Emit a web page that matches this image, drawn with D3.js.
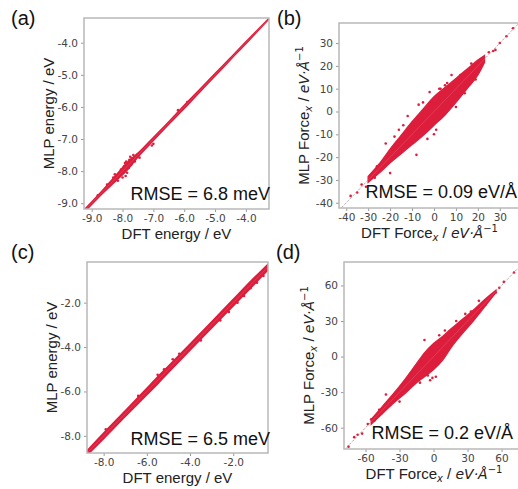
<!DOCTYPE html>
<html><head><meta charset="utf-8">
<script src="https://cdn.jsdelivr.net/npm/d3@7"></script>
<style>body{margin:0;background:#fff;overflow:hidden}</style></head>
<body><svg id="c" width="518" height="489"></svg>
<script>
// ---------- DATA ----------
// (a)
const aTicks = [-9, -8, -7, -6, -5, -4];
const aBandX  = [-9.22, -8.6, -8.3, -8.1, -7.9, -7.7, -7.5, -7.0, -6.5, -6.0, -5.5, -5.0, -4.5, -4.0, -3.6, -3.25];
const aBandLo = [-9.26, -8.65, -8.38, -8.2, -8.02, -7.8, -7.56, -7.05, -6.54, -6.05, -5.54, -5.04, -4.53, -4.03, -3.62, -3.26];
const aBandHi = [-9.18, -8.55, -8.22, -8.0, -7.78, -7.6, -7.44, -6.95, -6.46, -5.95, -5.46, -4.96, -4.47, -3.97, -3.58, -3.24];
const aPtsX = [-8.25, -8.15, -8.05, -8.0, -7.95, -7.9, -7.88, -7.85, -7.8, -7.78, -7.75, -7.72, -7.7, -7.65, -7.6, -7.55, -7.05, -7.0, -6.2, -5.9, -8.5, -8.8, -7.45, -8.3, -7.92];
const aPtsY = [-8.1, -8.3, -7.95, -8.2, -7.85, -8.15, -7.7, -8.05, -7.9, -7.65, -7.55, -7.8, -7.6, -7.5, -7.7, -7.55, -7.2, -7.15, -6.1, -5.85, -8.42, -8.75, -7.58, -8.2, -7.75];
// (b)
const bTicks = [-40, -30, -20, -10, 0, 10, 20, 30];
const bBandX  = [-30, -25, -20, -15, -10, -5, 0, 5, 10, 15, 20, 23];
const bBandLo = [-31, -27, -22.5, -18.5, -14.5, -10.5, -6, -1.5, 4, 10, 16, 21.5];
const bBandHi = [-28.5, -23, -16.5, -10.5, -4.5, 1, 6.5, 10.5, 14.5, 18.5, 22.5, 24.5];
const bPtsX = [-38, -35, -33, -31, -29, -27, -26, 25, 27, 28, 30, 33, 36, -12, -5, 3, 8, -16, -20, 0, 10, -8, 5, 14, 2.4, -22, -18, -14, -7, -2, 6, 12, 17, 19, -3, 1];
const bPtsY = [-37, -35.5, -32, -33, -28, -29, -24, 26, 26.5, 27, 30, 33, 36.5, -2, 4, 10, 16, -8, -27, -10, 2, -19, 11.5, 8, 10, -14, -11, -6, 3, 8.5, 12.5, 16, 21, 14, -12, -8];
// (c)
const cTicks = [-8, -6, -4, -2];
const cBandX  = [-8.8, -8.0, -7.0, -6.0, -5.5, -5.0, -4.0, -3.0, -2.0, -1.0, -0.3];
const cBandLo = [-8.9, -8.13, -7.13, -6.15, -5.66, -5.15, -4.14, -3.14, -2.15, -1.15, -0.44];
const cBandHi = [-8.7, -7.87, -6.87, -5.85, -5.34, -4.85, -3.86, -2.86, -1.85, -0.85, -0.18];
const cPtsX = [-5.5, -5.2, -4.8, -6.4, -7.9, -2.6, -1.5, -1.2, -3.5, -4.5, -0.6, -0.9, -2.2, -1.8];
const cPtsY = [-5.25, -5.0, -4.55, -6.2, -7.7, -2.8, -1.7, -1.35, -3.7, -4.3, -0.8, -1.1, -2.42, -2.0];
// (d)
const dTicks = [-60, -30, 0, 30, 60];
const dBandX  = [-55, -45, -35, -25, -15, -8, 0, 8, 15, 25, 35, 45, 55];
const dBandLo = [-57, -48, -39, -31, -22, -17, -11, -3, 7, 19, 30, 42, 54];
const dBandHi = [-53, -42, -31, -19, -6, 3, 11, 17, 23, 31, 39, 48, 56];
const dPtsX = [-75, -70, -67, -63, -58, -55, -52, -3, -1, 2, -12, -20, 50, 55, 58, 62, 71, -8, 10, 28, 46, 40, -42, -30, -48, -38, -27, 20, 33, 5, -5];
const dPtsY = [-76, -68, -66, -65, -57, -53, -54, -20, -18, -17, -22, -14, 51, 54, 58, 63, 71, 14, 22, 36, 44, 47, -32, -38, -45, -40, -24, 30, 38, 18, -16];

const rmseTexts = ["RMSE = 6.8 meV", "RMSE = 0.09 eV/Å", "RMSE = 6.5 meV", "RMSE = 0.2 eV/Å"];
const panelLabels = ["(a)", "(b)", "(c)", "(d)"];

// ---------- DRAW ----------
const svg = d3.select("#c");
const RED = "#dc1e3c";
const SANS = "'Liberation Sans', Arial, sans-serif";
const DJV = "'DejaVu Sans', sans-serif";

function energyLabel(t, who) {
  t.append("tspan").text(who + " energy / eV");
}
function forceLabel(t, who) {
  t.append("tspan").text(who + " Force");
  t.append("tspan").attr("font-family", DJV).attr("font-style", "italic").attr("font-size", 10).attr("dy", 3).text("x");
  t.append("tspan").attr("dy", -3).text(" / ");
  t.append("tspan").attr("font-family", DJV).attr("font-style", "italic").attr("font-size", 14).text("eV·Å");
  t.append("tspan").attr("font-family", DJV).attr("font-size", 10).attr("dy", -6).text("−1");
}

function panel(idx, box, xDom, yDom, ticks, fmt, bX, bLo, bHi, pX, pY, labelFn, lab, txt) {
  const [L, T, R, B] = box;
  const x = d3.scaleLinear().domain(xDom).range([L, R]);
  const y = d3.scaleLinear().domain(yDom).range([B, T]);
  const g = svg.append("g");
  const cid = "clip" + idx;
  svg.append("clipPath").attr("id", cid).append("rect").attr("x", L).attr("y", T).attr("width", R - L).attr("height", B - T);
  const pg = g.append("g").attr("clip-path", `url(#${cid})`);
  const lo = Math.min(xDom[0], yDom[0]), hi = Math.max(xDom[1], yDom[1]);
  pg.append("line").attr("x1", x(lo)).attr("y1", y(lo)).attr("x2", x(hi)).attr("y2", y(hi))
    .attr("stroke", "#999").attr("stroke-width", 0.8).attr("stroke-dasharray", "2,2");
  const area = d3.area().x((d, i) => x(bX[i])).y0((d, i) => y(bLo[i])).y1((d, i) => y(bHi[i])).curve(d3.curveMonotoneX);
  pg.append("path").datum(bX).attr("d", area).attr("fill", RED).attr("stroke", RED).attr("stroke-width", 1.4);
  pg.selectAll("circle.p").data(pX).enter().append("circle")
    .attr("cx", (d, i) => x(pX[i])).attr("cy", (d, i) => y(pY[i])).attr("r", 1.3).attr("fill", RED);
  pg.append("line").attr("x1", x(lo)).attr("y1", y(lo)).attr("x2", x(hi)).attr("y2", y(hi))
    .attr("stroke", "#e9a0ae").attr("stroke-width", 0.6).attr("opacity", 0.4);

  // axes
  const xa = g.append("g").attr("transform", `translate(0,${B})`).call(d3.axisBottom(x).tickValues(ticks).tickFormat(fmt).tickSize(3).tickPadding(3));
  const ya = g.append("g").attr("transform", `translate(${L},0)`).call(d3.axisLeft(y).tickValues(ticks).tickFormat(fmt).tickSize(3).tickPadding(3));
  [xa, ya].forEach(a => {
    a.select(".domain").remove();
    a.selectAll("line").attr("stroke", "#999");
    a.selectAll("text").attr("font-family", DJV).attr("font-size", 10.5).attr("fill", "#444");
  });
  g.append("rect").attr("x", L).attr("y", T).attr("width", R - L).attr("height", B - T)
    .attr("fill", "none").attr("stroke", "#b8b8b8").attr("stroke-width", 1.5);

  const xl = g.append("text").attr("x", (L + R) / 2).attr("y", B + 30).attr("text-anchor", "middle")
    .attr("font-family", SANS).attr("font-size", 15).attr("fill", "#222");
  labelFn(xl, "DFT");
  const yl = g.append("text").attr("transform", `translate(${L - 30},${(T + B) / 2}) rotate(-90)`).attr("text-anchor", "middle")
    .attr("font-family", SANS).attr("font-size", 15).attr("fill", "#222");
  labelFn(yl, "MLP");

  g.append("text").attr("x", txt[0]).attr("y", txt[1]).attr("text-anchor", "end")
    .attr("font-family", SANS).attr("font-size", 18).attr("fill", "#111").text(rmseTexts[idx]);
  g.append("text").attr("x", lab[0]).attr("y", lab[1])
    .attr("font-family", SANS).attr("font-size", 20).attr("fill", "#111").text(panelLabels[idx]);
}

const hy = f => v => f(v).replace("−", "-");
const f1 = hy(d3.format(".1f")), f0 = hy(d3.format("d"));
panel(0, [84, 18, 269, 209], [-9.25, -3.25], [-9.18, -3.23], aTicks, f1, aBandX, aBandLo, aBandHi, aPtsX, aPtsY, energyLabel, [11, 25], [270, 200]);
panel(1, [339, 23, 520, 208], [-43.3, 39.2], [-42.3, 38.8], bTicks, f0, bBandX, bBandLo, bBandHi, bPtsX, bPtsY, forceLabel, [277, 25], [517, 198]);
panel(2, [87, 262, 268, 453], [-8.77, -0.39], [-8.77, -0.17], cTicks, f1, cBandX, cBandLo, cBandHi, cPtsX, cPtsY, energyLabel, [11, 259], [270, 445]);
panel(3, [344, 262, 524, 449], [-79, 79.8], [-78, 79.8], dTicks, f0, dBandX, dBandLo, dBandHi, dPtsX, dPtsY, forceLabel, [276, 259], [513, 439]);
</script></body></html>
